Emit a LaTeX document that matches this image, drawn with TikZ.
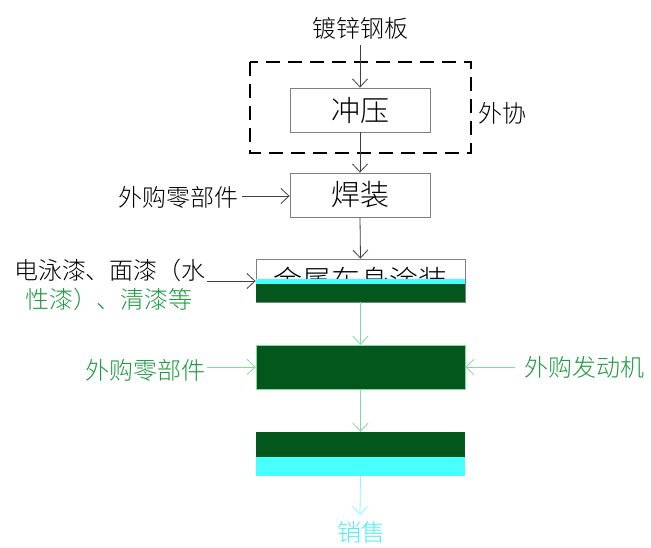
\documentclass[tikz,border=0pt]{standalone}
\usepackage{fontspec}
\newfontfamily\cjk{Noto Sans CJK SC Light}
\usetikzlibrary{arrows.meta}
\definecolor{dkgreen}{HTML}{03561C}
\definecolor{txtgreen}{HTML}{1E9A40}
\definecolor{lngreen}{HTML}{7FDC9C}
\definecolor{cyanfill}{HTML}{48FFFF}
\definecolor{cyantxt}{HTML}{50F0F0}
\definecolor{boxgray}{HTML}{7F7F7F}
\tikzset{
  lbl/.style={font=\cjk\fontsize{24}{27}\selectfont, inner sep=0pt},
  boxtxt/.style={font=\cjk\fontsize{29}{32}\selectfont},
  procbox/.style={draw=boxgray, line width=0.9pt, minimum width=140pt, minimum height=44pt, inner sep=0pt, boxtxt},
  widebox/.style={draw=boxgray, line width=0.9pt, minimum width=209pt, minimum height=44pt, inner sep=0pt, boxtxt},
  arr/.style={-{Straight Barb[length=8pt,width=15pt]}, line width=0.8pt, draw=black!75},
  garr/.style={arr, draw=lngreen},
  carr/.style={arr, draw=cyanfill!70!white},
}
\begin{document}
\begin{tikzpicture}[x=1pt,y=-1pt]
\useasboundingbox[fill=white] (0,0) rectangle (651,547);
% top
\node[lbl] (src) at (360,28) {镀锌钢板};
\draw[black, line width=2.8pt, dash pattern=on 14pt off 8pt] (250,62) rectangle (471,153);
\node[lbl] (wx) at (502,113) {外协};
\node[procbox] (stamp) at (360,110) {冲压};
\node[procbox] (weld) at (360,195) {焊装};
\node[lbl] (buy1) at (178,197) {外购零部件};
\coordinate (srcb) at (360,45);
\draw[arr] (srcb) -- (stamp.north);
\draw[arr] (stamp.south) -- (weld.north);
\coordinate (b1s) at (242,196);
\draw[arr] (b1s) -- (weld.west |- b1s);
% paint
\node[widebox, minimum height=43pt] (paint) at (360.5,280.5) {金属车身涂装};
\fill[cyanfill] (256,279) rectangle (465,284);
\fill[dkgreen] (256,284) rectangle (465,302);
\draw[arr] (weld.south) -- (paint.north);
\node[lbl] (mat1) at (110,270) {电泳漆、面漆（水};
\node[lbl, text=txtgreen] (mat2) at (109,299) {性漆）、清漆等};
\coordinate (mats) at (207,281);
\draw[arr] (mats) -- (paint.west |- mats);
% assembly
\node[draw=lngreen, fill=dkgreen, minimum width=209pt, minimum height=44pt, inner sep=0pt] (asm) at (360.5,367) {};
\draw[garr] (paint.south) -- (asm.north);
\node[lbl, text=txtgreen] (buy2) at (145,370) {外购零部件};
\coordinate (b2s) at (207,367);
\draw[garr] (b2s) -- (asm.west);
\node[lbl, text=txtgreen] (eng) at (584,367) {外购发动机};
\coordinate (es) at (515,367);
\draw[garr] (es) -- (asm.east);
% inspection
\node[minimum width=209pt, minimum height=44pt, inner sep=0pt] (insp) at (360.5,454) {};
\fill[dkgreen] (256,432) rectangle (465,457);
\fill[cyanfill] (256,457) rectangle (465,476);
\draw[garr] (asm.south) -- (insp.north);
\node[lbl, text=cyantxt] (sale) at (361,532) {销售};
\coordinate (sn) at (360,515);
\draw[carr] (insp.south) -- (sn);
\end{tikzpicture}
\end{document}
